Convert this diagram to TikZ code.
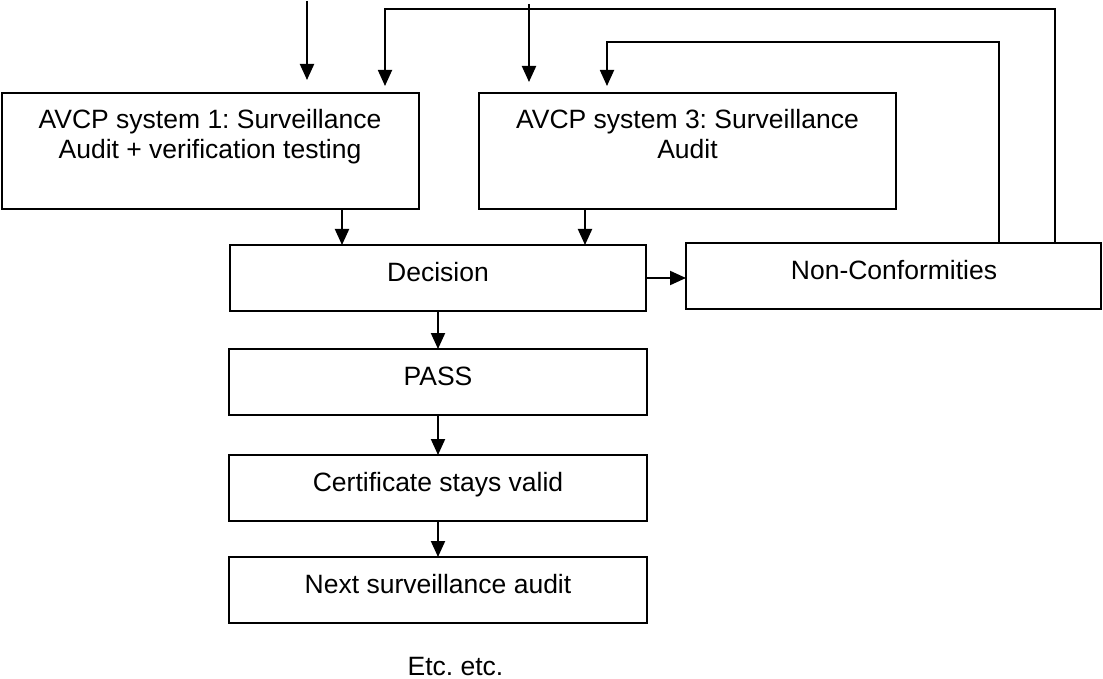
\documentclass[tikz,border=0pt]{standalone}
\usepackage{fontspec}
\setmainfont{Liberation Sans}
\usetikzlibrary{arrows.meta,calc}
\frenchspacing
\begin{document}
\begin{tikzpicture}[x=1pt,y=-1pt,
  box/.style={draw=black,line width=2.2pt,inner sep=0pt,outer sep=0pt,fill=white},
  lbl/.style={inner sep=0pt,outer sep=0pt,font=\fontsize{26.5}{30}\selectfont\frenchspacing,align=center},
  tip/.style={-{Triangle[length=16pt,width=14pt]}},
  arr/.style={line width=2pt,tip},
  fb/.style={line width=1.8pt,tip}]
\fill[white] (0,0) rectangle (1103,679);
\useasboundingbox (0,0) rectangle (1103,679);
% boxes
\node[box,minimum width=417pt,minimum height=116pt] (b1) at (210.5,151) {};
\node[box,minimum width=417pt,minimum height=116pt] (b3) at (687.5,151) {};
\node[box,minimum width=416pt,minimum height=66pt] (dec) at (438,278) {};
\node[box,minimum width=415pt,minimum height=66pt] (nc) at (893.5,276) {};
\node[box,minimum width=418pt,minimum height=66pt] (pass) at (438,382) {};
\node[box,minimum width=418pt,minimum height=66pt] (cert) at (438,488) {};
\node[box,minimum width=418pt,minimum height=66pt] (next) at (438,590) {};
% texts
\node[lbl,anchor=north] (t1) at (210,109) {AVCP system 1: Surveillance\\Audit + verification testing};
\node[lbl,anchor=north] (t3) at (687.5,109) {AVCP system 3: Surveillance\\Audit};
\node[lbl,anchor=base] (tdec) at (438,281) {Decision};
\node[lbl,anchor=base] (tnc) at (894,279) {Non-Conformities};
\node[lbl,anchor=base] (tpass) at (438,385) {PASS};
\node[lbl,anchor=base] (tcert) at (438,491) {Certificate stays valid};
\node[lbl,anchor=base] (tnext) at (438,593) {Next surveillance audit};
\node[lbl,anchor=base] (tetc) at (455.5,675) {Etc. etc.};
% coordinates
\coordinate (in1) at (307,1);
\coordinate (in3) at (529,4);
\coordinate (r1) at (1055,9);
\coordinate (r2) at (999,42);
\coordinate (t2) at (385,0);
\coordinate (t4) at (607,0);
\coordinate (d1) at (342,0);
\coordinate (d3) at (585,0);
% incoming arrows
\draw[arr,shorten >=13pt] (in1) -- (in1 |- b1.north);
\draw[arr,shorten >=11pt] (in3) -- (in3 |- b3.north);
% feedback loops
\draw[fb,shorten >=7pt] (nc.north -| r1) -- (r1) -- (r1 -| t2) -- (t2 |- b1.north);
\draw[fb,shorten >=7pt] (nc.north -| r2) -- (r2) -- (r2 -| t4) -- (t4 |- b3.north);
% flow
\draw[arr] (b1.south -| d1) -- (d1 |- dec.north);
\draw[arr] (b3.south -| d3) -- (d3 |- dec.north);
\draw[arr] (dec.east) -- (dec.east -| nc.west);
\draw[arr] (dec.south) -- (pass.north);
\draw[arr] (pass.south) -- (cert.north);
\draw[arr] (cert.south) -- (next.north);
\end{tikzpicture}
\end{document}
